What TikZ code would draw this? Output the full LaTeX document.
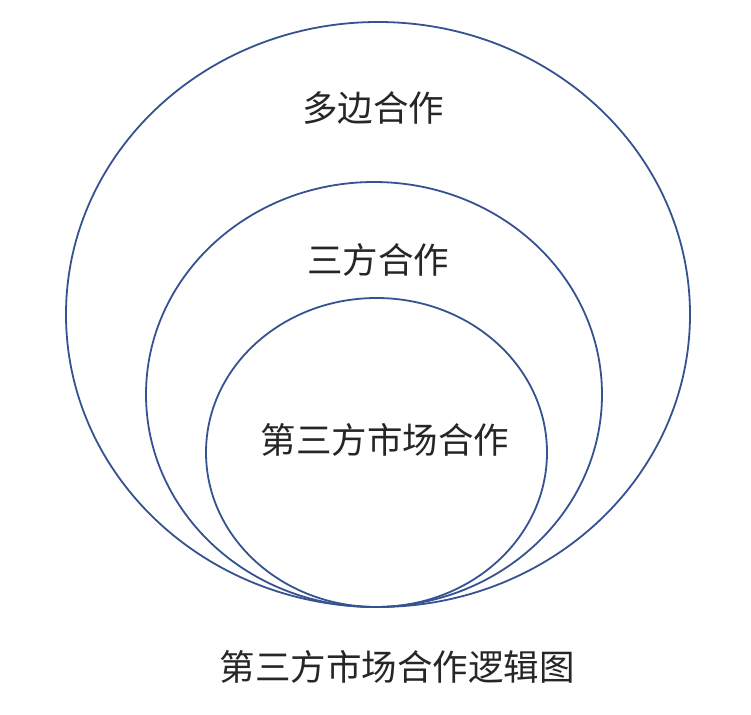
\documentclass[tikz,border=0pt]{standalone}
\usepackage{fontspec}
\newfontfamily\cjk{Noto Sans CJK SC}
\usetikzlibrary{shapes.geometric}
\definecolor{ringblue}{RGB}{55,82,145}
\tikzset{
  ring/.style={draw=ringblue, line width=1.8pt, ellipse, inner sep=0pt},
  lbl/.style={font=\cjk\fontsize{35.5}{40}\selectfont, text=black!85, inner sep=0pt}
}
\begin{document}
\begin{tikzpicture}[x=1pt,y=-1pt]
\useasboundingbox (0,0) rectangle (751,714);
\fill[white] (0,0) rectangle (751,714);
\node[ring, minimum width=624pt, minimum height=585pt] (outer) at (378,314.5) {};
\node[ring, minimum width=456pt, minimum height=425pt] (middle) at (374,394.5) {};
\node[ring, minimum width=341pt, minimum height=309pt] (inner) at (376.5,452.5) {};
\node[lbl] (t1) at (373,108) {多边合作};
\node[lbl] (t2) at (378,260) {三方合作};
\node[lbl] (t3) at (385,440) {第三方市场合作};
\node[lbl] (cap) at (397,667) {第三方市场合作逻辑图};
\end{tikzpicture}
\end{document}
